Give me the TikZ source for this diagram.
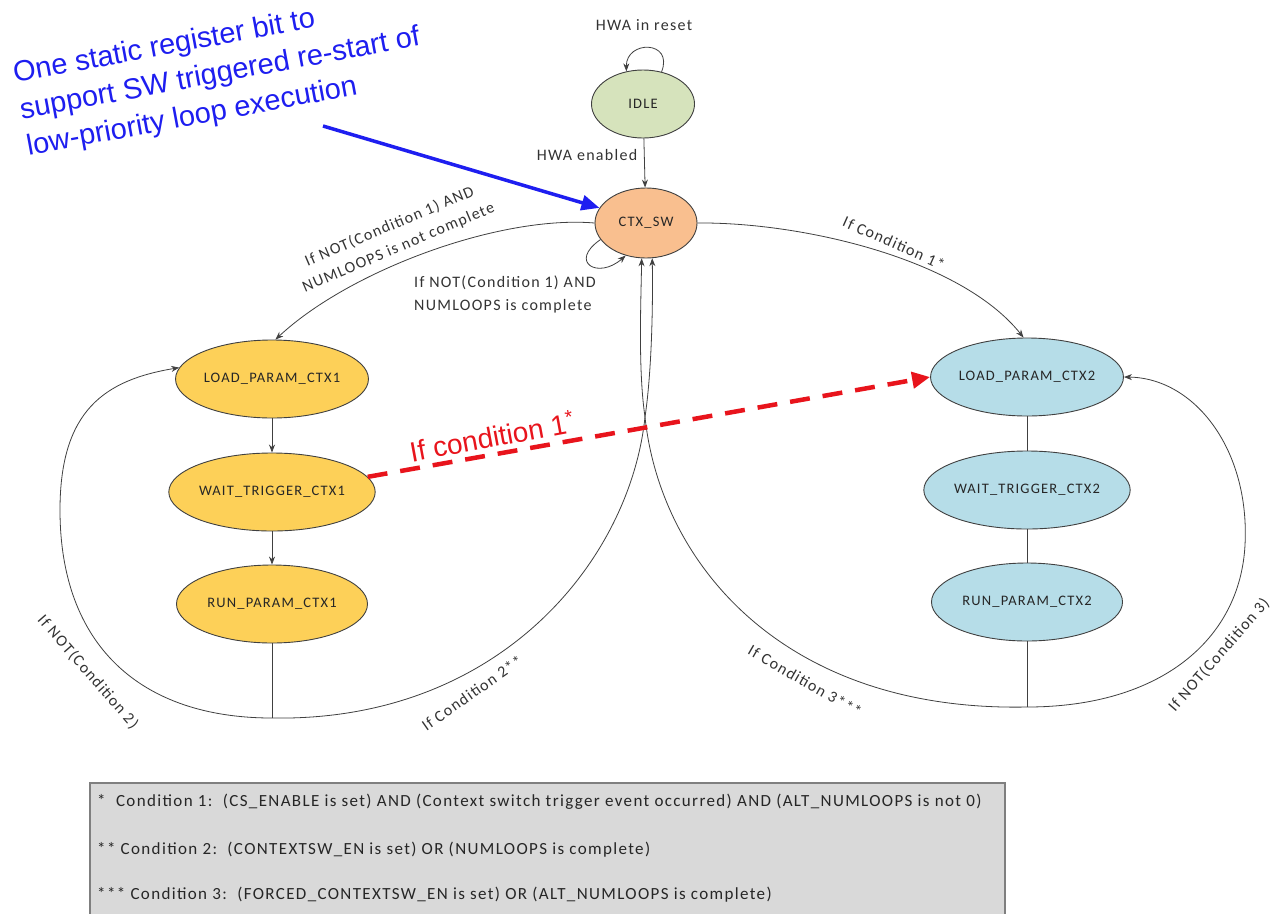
\documentclass[tikz,border=0pt]{standalone}
\usepackage{fontspec}
\setmainfont{Carlito}
\newfontfamily\lab[LetterSpace=8]{Carlito}
\newfontfamily\arial{Liberation Sans}
\usetikzlibrary{arrows.meta,shapes.geometric}
\definecolor{idlefill}{HTML}{D6E3BC}
\definecolor{ctxfill}{HTML}{F9BF8F}
\definecolor{cafill}{HTML}{FDD058}
\definecolor{cbfill}{HTML}{B6DDE8}
\definecolor{edgecol}{HTML}{404040}
\definecolor{noteblue}{HTML}{1E1EF0}
\definecolor{notered}{HTML}{E8141C}
\definecolor{legfill}{HTML}{D9D9D9}
\definecolor{legdraw}{HTML}{7F7F7F}
\begin{document}
\begin{tikzpicture}[x=1pt,y=-1pt,
  stnode/.style={ellipse, draw=edgecol, line width=0.9pt, inner sep=0pt,
    minimum width=191pt, minimum height=78pt, text=black!85,
    font=\lab\fontsize{14.5}{16}\selectfont},
  conn/.style={draw=edgecol, line width=0.8pt},
  arr/.style={conn, -{Stealth[length=8pt,width=6pt]}},
  elabel/.style={font=\lab\fontsize{16}{23}\selectfont, text=black!80, inner sep=1pt},
  leglabel/.style={font=\lab\fontsize{17}{19}\selectfont, text=black!85, anchor=west, inner sep=0pt}
]
\useasboundingbox (0,0) rectangle (1276,913);
\fill[white] (0,0) rectangle (1276,913);

% legend box
\draw[fill=legfill, draw=legdraw, line width=1.2pt] (90,783) rectangle (1005,925);
\node[leglabel] (l1) at (97,802) {*\ \ Condition 1:\ \ (CS\_ENABLE is set) AND (Context switch trigger event occurred) AND (ALT\_NUMLOOPS is not 0)};
\node[leglabel] (l2) at (97,850) {** Condition 2:\ \ (CONTEXTSW\_EN is set) OR (NUMLOOPS is complete)};
\node[leglabel] (l3) at (97,895) {*** Condition 3:\ \ (FORCED\_CONTEXTSW\_EN is set) OR (ALT\_NUMLOOPS is complete)};

% states
\node[stnode, fill=idlefill, minimum width=103pt, minimum height=68pt] (idle) at (643,104) {IDLE};
\node[stnode, fill=ctxfill, minimum width=102pt, minimum height=70pt] (ctx) at (646,223) {CTX\_SW};
\node[stnode, fill=cafill] (load1) at (272,379) {LOAD\_PARAM\_CTX1};
\node[stnode, fill=cafill] (wait1) at (272,492) {WAIT\_TRIGGER\_CTX1};
\node[stnode, fill=cafill] (run1) at (272,604) {RUN\_PARAM\_CTX1};
\node[stnode, fill=cbfill] (load2) at (1027,377) {LOAD\_PARAM\_CTX2};
\node[stnode, fill=cbfill] (wait2) at (1027,490) {WAIT\_TRIGGER\_CTX2};
\node[stnode, fill=cbfill] (run2) at (1027,602) {RUN\_PARAM\_CTX2};
\coordinate (b1) at (272,718);
\coordinate (b2) at (1027,707);
\coordinate (x) at (645,417);

% connectors
\draw[arr] (idle.60) .. controls (674,40) and (626,40) .. (idle.117);
\draw[arr] (idle) -- (ctx);
\draw[arr] (ctx.200) .. controls (568,262) and (598,280) .. (ctx.238);
\draw[arr] (ctx.west) .. controls (500,215) and (350,270) .. (load1.85);
\draw[arr] (ctx.east) .. controls (800,222) and (960,258) .. (load2.95);
\draw[arr] (load1) -- (wait1);
\draw[arr] (wait1) -- (run1);
\draw[conn] (run1) -- (b1);
\draw[conn] (load2) -- (wait2);
\draw[conn] (wait2) -- (run2);
\draw[conn] (run2) -- (b2);
\draw[arr] (b1) .. controls (140,718) and (60,645) .. (60,510) .. controls (60,410) and (105,380) .. (load1.173);
\draw[arr] (b2) .. controls (1160,707) and (1240,640) .. (1245,545) .. controls (1250,450) and (1195,378) .. (load2.east);
\draw[arr] (b1) .. controls (500,722) and (630,560) .. (x) .. controls (652,370) and (653,300) .. (ctx.-80);
\draw[arr] (b2) .. controls (780,712) and (660,560) .. (x) .. controls (638,370) and (641,300) .. (ctx.-97);

% edge labels
\node[elabel] (t1) at (644,25) {HWA in reset};
\node[elabel] (t2) at (587,155) {HWA enabled};
\node[elabel, rotate=23, align=center] (t3) at (394,237) {If NOT(Condition 1) AND\\NUMLOOPS is not complete};
\node[elabel, align=left, anchor=west] (t4) at (413,294) {If NOT(Condition 1) AND\\NUMLOOPS is complete};
\node[elabel, rotate=-24] (t5) at (894,243) {If Condition 1*};
\node[elabel, rotate=-49] (t6) at (88,672) {If NOT(Condition 2)};
\node[elabel, rotate=35] (t7) at (472,693) {If Condition 2**};
\node[elabel, rotate=-30] (t8) at (805,681) {If Condition 3***};
\node[elabel, rotate=49, inner sep=0pt] (t9) at (1219,655) {If NOT(Condition 3)};

% red dashed transition
\draw[notered, line width=4.5pt, dash pattern=on 20pt off 13pt, -{Triangle[length=18pt,width=16pt]}] (wait1.9) -- (load2.west);
\node[text=notered, font=\arial\fontsize{28}{30}\selectfont, rotate=10.5, inner sep=0pt] (rt) at (492,436) {If condition 1\textsuperscript{*}};

% blue annotation
\coordinate (bs) at (323,126);
\draw[noteblue, line width=3.5pt, -{Triangle[length=18pt,width=15pt]}] (bs) -- (ctx.162);
\node[text=noteblue, font=\arial\fontsize{29}{37}\selectfont, rotate=10.5, align=left, anchor=north west, inner sep=0pt] (bt) at (11,62) {One static register bit to\\support SW triggered re-start of\\low-priority loop execution};
\end{tikzpicture}
\end{document}
